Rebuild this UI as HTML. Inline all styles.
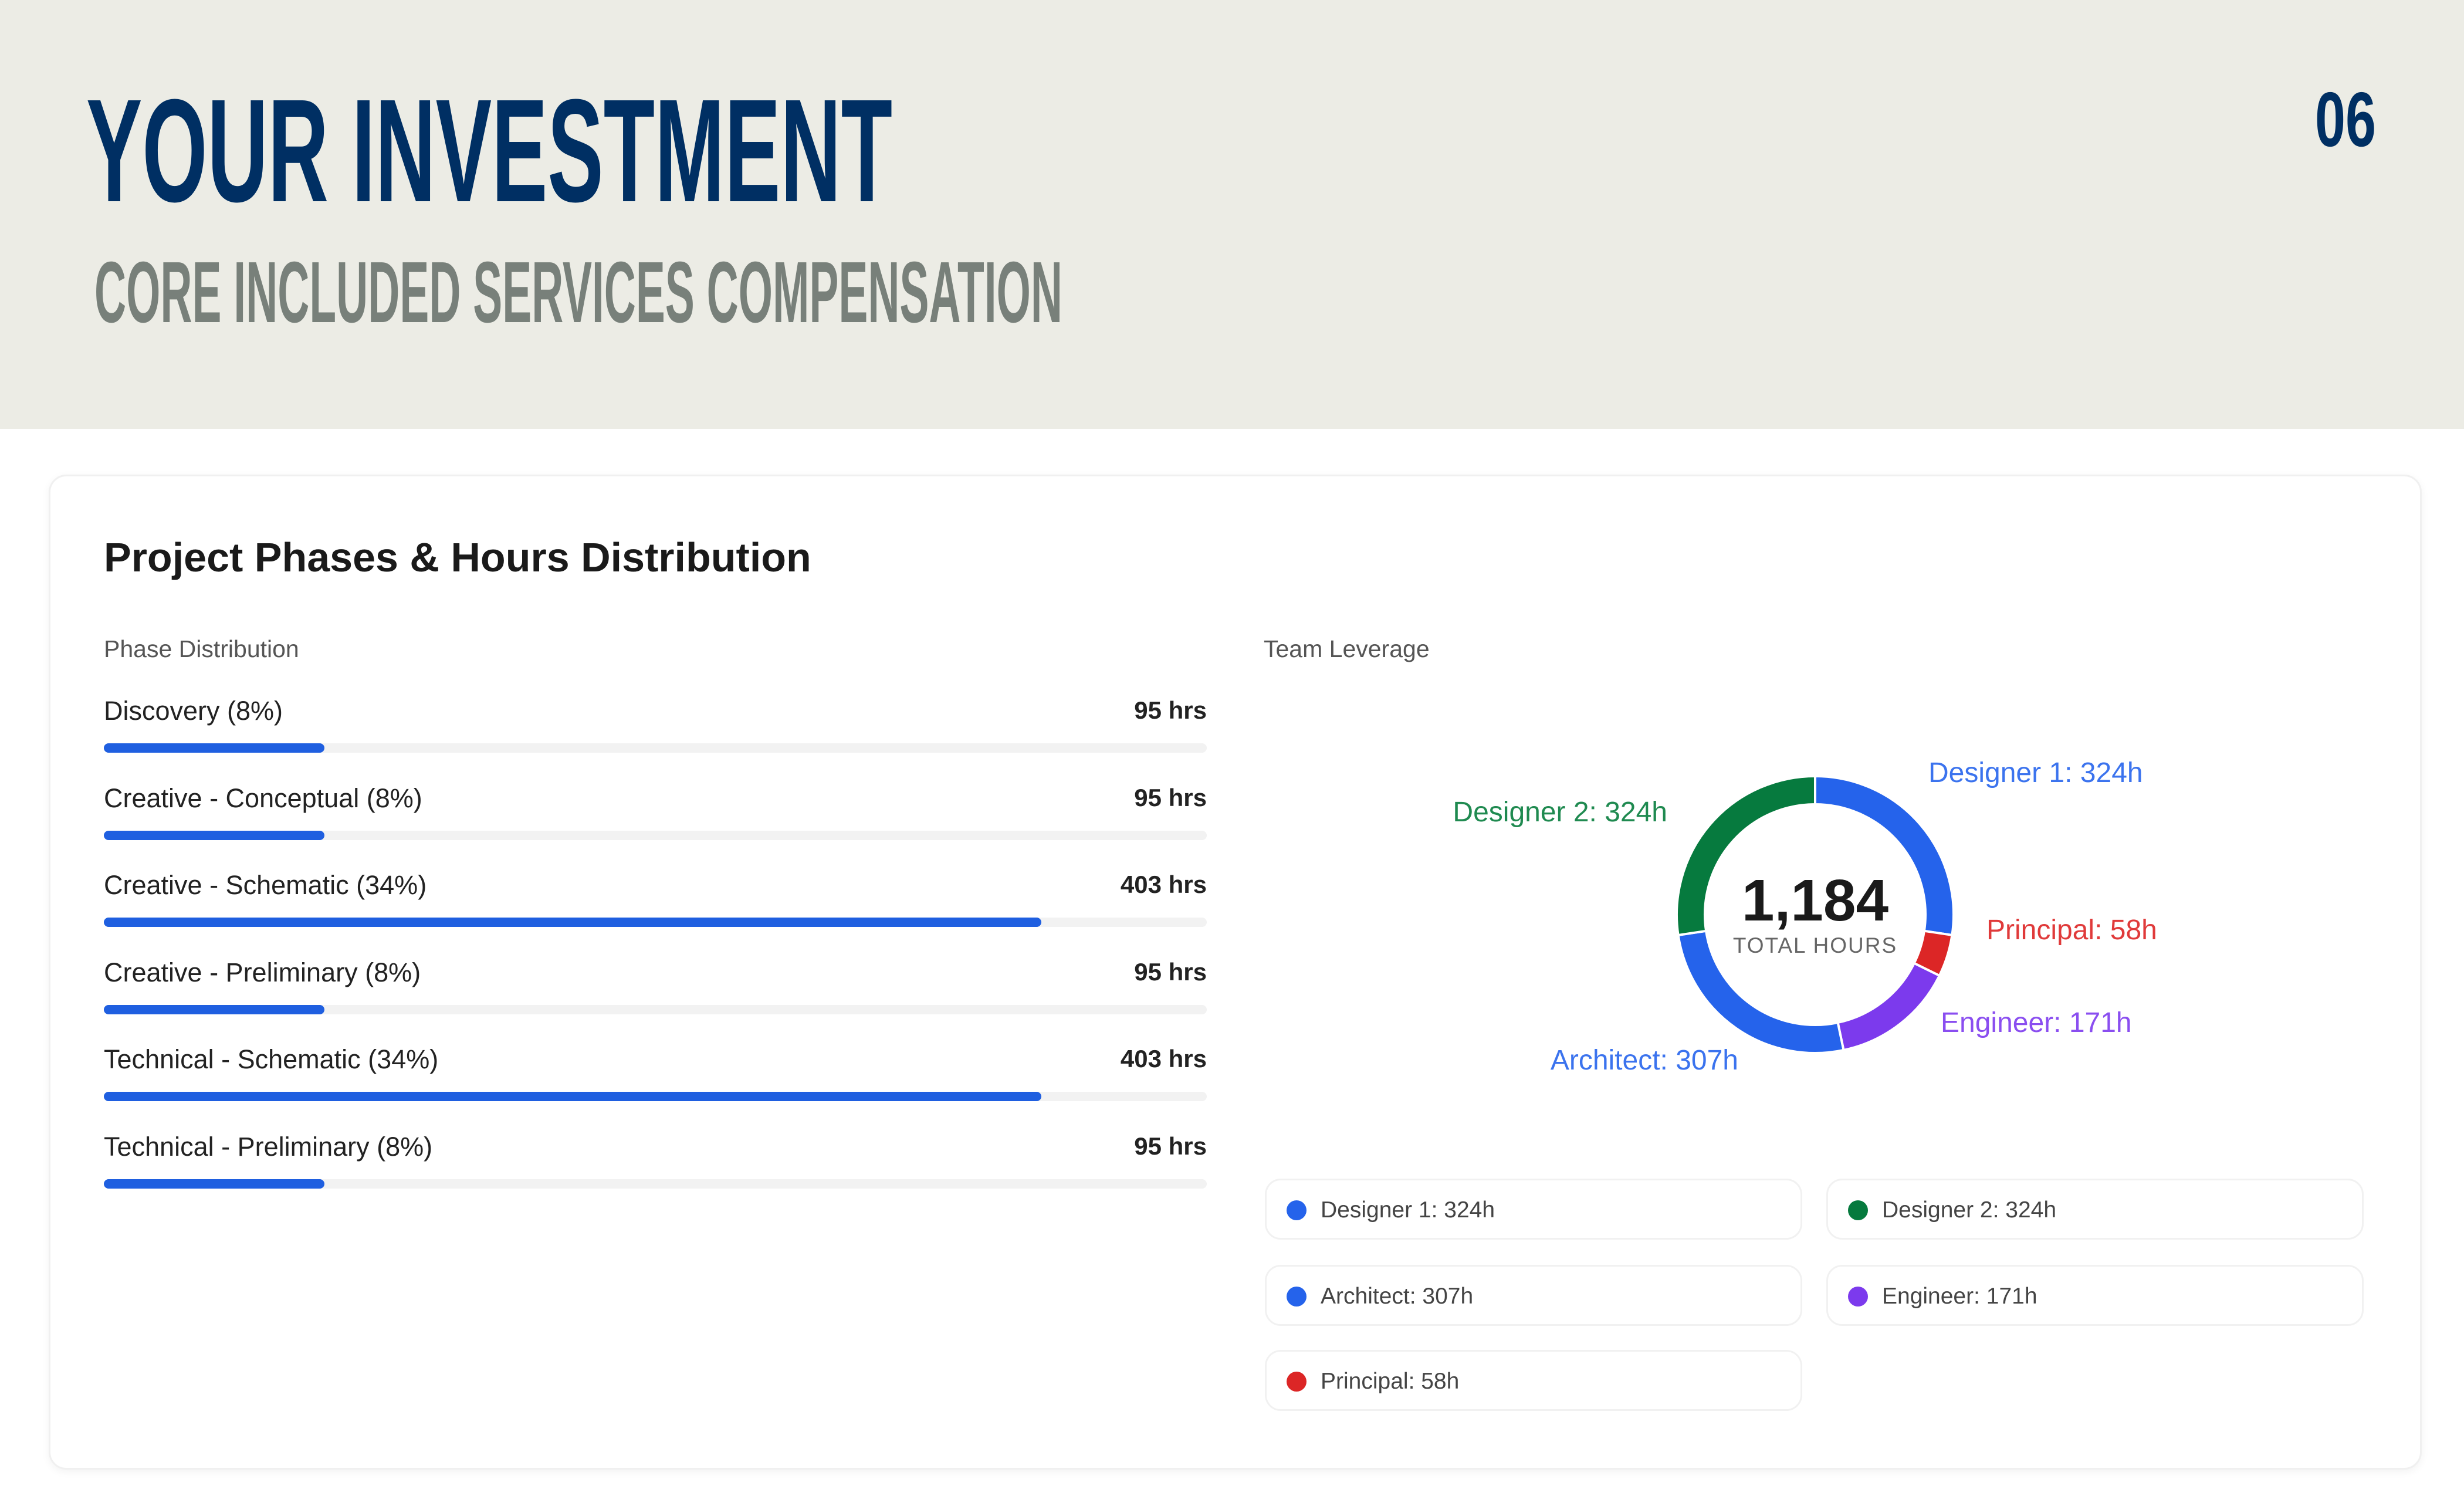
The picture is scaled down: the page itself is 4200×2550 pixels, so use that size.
<!DOCTYPE html>
<html><head><meta charset="utf-8"><style>
*{margin:0;padding:0;box-sizing:border-box}
body{width:4200px;height:2550px;background:#fff;font-family:"Liberation Sans",sans-serif;position:relative;overflow:hidden}
#hdr{position:absolute;left:0;top:0;width:4200px;height:731px;background:#ecece5}
#card{position:absolute;left:83px;top:809px;width:4045px;height:1696px;background:#fff;border:3px solid #f0f0f0;border-radius:30px;box-shadow:0 4px 14px rgba(0,0,0,0.05)}
.abs{position:absolute}
.lbl{font-size:45px;color:#222;white-space:nowrap}
.hrs{font-size:42px;color:#222;font-weight:bold;text-align:right;width:400px}
.track{height:16px;background:#f2f2f2;border-radius:8px}
.fill{height:16px;background:#1f5fe0;border-radius:8px;position:absolute;left:0;top:0}
.leg{position:absolute;width:916px;height:104px;border:3px solid #f1f1f1;border-radius:27px;background:#fff}
.leg .dot{position:absolute;left:34px;top:34px;width:34px;height:34px;border-radius:50%}
.leg .t{position:absolute;left:92px;top:29px;font-size:39px;color:#444;white-space:nowrap}
</style></head><body>
<div id="hdr"></div>
<svg class="abs" style="left:0;top:0" width="4200" height="731">
<text x="147" y="343" font-family="Liberation Sans" font-weight="bold" font-size="250" fill="#002f63" textLength="1374" lengthAdjust="spacingAndGlyphs">YOUR INVESTMENT</text>
<text x="161" y="549" font-family="Liberation Sans" font-weight="bold" font-size="148" fill="#78807a" textLength="1650" lengthAdjust="spacingAndGlyphs">CORE INCLUDED SERVICES COMPENSATION</text>
<text x="3946" y="249" font-family="Liberation Sans" font-weight="bold" font-size="132" fill="#002f63" textLength="104" lengthAdjust="spacingAndGlyphs">06</text>
</svg>
<div id="card"></div>
<div class="abs" style="left:177px;top:910px;font-size:70px;color:#1a1a1a;font-weight:bold;white-space:nowrap">Project Phases &amp; Hours Distribution</div>
<div class="abs" style="left:177px;top:1083px;font-size:41px;color:#555">Phase Distribution</div>
<div class="abs" style="left:2154px;top:1083px;font-size:41px;color:#555">Team Leverage</div>
<div id="phases"></div>
<svg id="donut" class="abs" style="left:0;top:0" width="4200" height="2550"></svg>
<div id="legend"></div>
<script>
const phaseNames=["Discovery (8%)","Creative - Conceptual (8%)","Creative - Schematic (34%)","Creative - Preliminary (8%)","Technical - Schematic (34%)","Technical - Preliminary (8%)"];
const phasePct=[8,8,34,8,34,8];
const phaseHours=[95,95,403,95,403,95];
const teamNames=["Designer 1","Principal","Engineer","Architect","Designer 2"];
const teamHours=[324,58,171,307,324];
const teamColors=["#2563eb","#dc2626","#7c3aed","#2563eb","#067a3e"];
const teamLabelColors=["#3b73ee","#e03a3a","#8a4ef0","#3b73ee","#1f8a50"];
const legendOrder=[0,4,3,2,1];

const trackX=177,trackW=1880,pctMax=40,row0=1180,rowStep=148.5;
const xScale=p=>p/pctMax*trackW;
const ph=document.getElementById('phases');
phaseNames.forEach((n,i)=>{
  const y=row0+i*rowStep;
  const l=document.createElement('div');l.className='abs lbl';l.style.left=trackX+'px';l.style.top=(y+6)+'px';l.textContent=n;
  
  
  ph.appendChild(l);
  const h=document.createElement('div');h.className='abs hrs';h.style.left=(trackX+trackW-400)+'px';h.style.top=(y+7)+'px';h.textContent=phaseHours[i]+' hrs';
  
  
  ph.appendChild(h);
  const t=document.createElement('div');t.className='abs track';t.style.left=trackX+'px';t.style.top=(y+87)+'px';t.style.width=trackW+'px';
  
  
  const f=document.createElement('div');f.className='fill';f.style.width=xScale(phasePct[i])+'px';
  
  
  t.appendChild(f);ph.appendChild(t);
});

const cx=3094,cy=1559,R=236,r=188;
const svg=document.getElementById('donut');
const total=teamHours.reduce((a,b)=>a+b,0);
const NS='http://www.w3.org/2000/svg';
const pt=(rad,a)=>[cx+rad*Math.sin(a),cy-rad*Math.cos(a)];
const labelPos=[[3287,1333,'start'],[3386,1601,'start'],[3308,1759,'start'],[2963,1823,'end'],[2842,1400,'end']];
let a0=0;
teamHours.forEach((v,i)=>{
  const a1=a0+v/total*2*Math.PI;
  const [x1,y1]=pt(R,a0),[x2,y2]=pt(R,a1),[x3,y3]=pt(r,a1),[x4,y4]=pt(r,a0);
  const lg=(a1-a0)>Math.PI?1:0;
  const p=document.createElementNS(NS,'path');
  p.setAttribute('d',`M${x1},${y1}A${R},${R} 0 ${lg} 1 ${x2},${y2}L${x3},${y3}A${r},${r} 0 ${lg} 0 ${x4},${y4}Z`);
  p.setAttribute('fill',teamColors[i]);p.setAttribute('stroke','#fff');p.setAttribute('stroke-width','4');
  
  
  svg.appendChild(p);
  const t=document.createElementNS(NS,'text');
  t.setAttribute('x',labelPos[i][0]);t.setAttribute('y',labelPos[i][1]);t.setAttribute('text-anchor',labelPos[i][2]);
  t.setAttribute('font-size','48');t.setAttribute('fill',teamLabelColors[i]);t.setAttribute('font-family','Liberation Sans');
  t.textContent=teamNames[i]+': '+v+'h';
  
  
  svg.appendChild(t);
  a0=a1;
});
const c1=document.createElementNS(NS,'text');
c1.setAttribute('x',cx);c1.setAttribute('y',cy+10);c1.setAttribute('text-anchor','middle');c1.setAttribute('font-size','100');c1.setAttribute('font-weight','bold');c1.setAttribute('fill','#1a1a1a');c1.setAttribute('font-family','Liberation Sans');
c1.textContent=total.toLocaleString('en-US');


svg.appendChild(c1);
const c2=document.createElementNS(NS,'text');
c2.setAttribute('x',cx);c2.setAttribute('y',cy+65);c2.setAttribute('text-anchor','middle');c2.setAttribute('font-size','37');c2.setAttribute('fill','#666');c2.setAttribute('font-family','Liberation Sans');c2.setAttribute('letter-spacing','2');
c2.textContent='TOTAL HOURS';


svg.appendChild(c2);

const lgd=document.getElementById('legend');
const legX=[2156,3113],legY=[2009,2156,2301];
legendOrder.forEach((k,j)=>{
  const b=document.createElement('div');b.className='leg';
  b.style.left=legX[j%2]+'px';b.style.top=legY[Math.floor(j/2)]+'px';
  
  
  b.innerHTML='<div class="dot" style="background:'+teamColors[k]+'"></div><div class="t">'+teamNames[k]+': '+teamHours[k]+'h</div>';
  lgd.appendChild(b);
});
</script>
</body></html>
